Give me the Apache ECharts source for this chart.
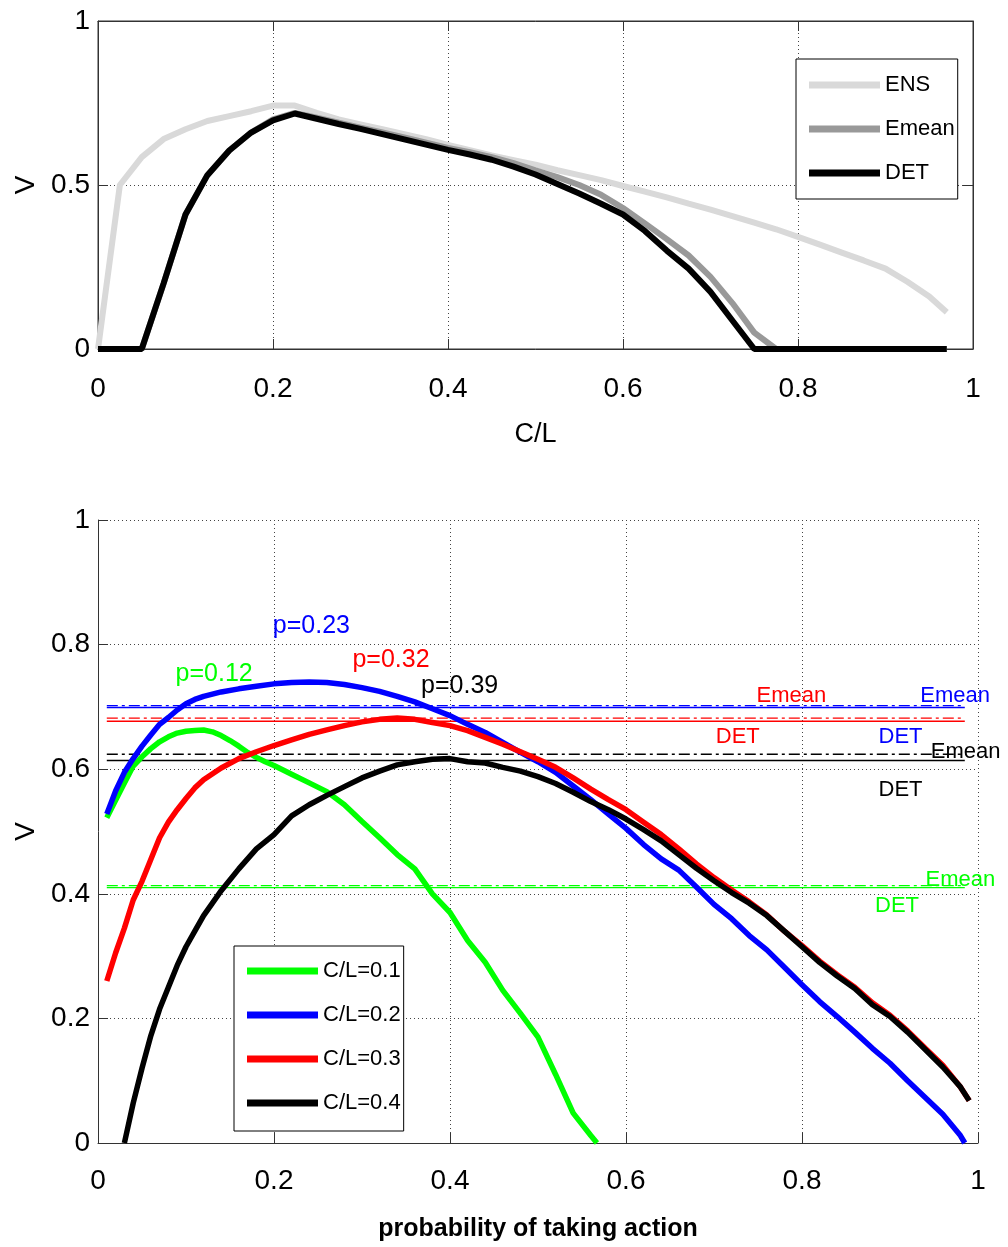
<!DOCTYPE html>
<html><head><meta charset="utf-8">
<script src="https://cdn.jsdelivr.net/npm/echarts@6/dist/echarts.min.js"></script>
<style>html,body{margin:0;padding:0;background:#fff}#c{width:1008px;height:1247px}</style>
</head><body><div id="c"></div>
<script>
// ---------- top panel: value V vs C/L ----------
const clTop = [0,0.025,0.05,0.075,0.1,0.125,0.15,0.175,0.2,0.225,0.25,0.275,0.3,0.325,0.35,0.375,0.4,0.425,0.45,0.475,0.5,0.525,0.55,0.575,0.6,0.625,0.65,0.675,0.7,0.725,0.75,0.775,0.8,0.825,0.85,0.875,0.9,0.925,0.95,0.97];
const ensV   = [0,0.50,0.585,0.64,0.67,0.695,0.71,0.725,0.742,0.742,0.72,0.70,0.685,0.67,0.655,0.64,0.622,0.606,0.59,0.576,0.562,0.545,0.53,0.515,0.497,0.48,0.462,0.443,0.425,0.405,0.385,0.365,0.342,0.318,0.294,0.27,0.245,0.205,0.16,0.112];
const emeanV = [0,0,0,0.2,0.41,0.53,0.605,0.66,0.70,0.72,0.705,0.69,0.675,0.66,0.645,0.629,0.613,0.6,0.585,0.567,0.545,0.524,0.50,0.47,0.43,0.383,0.335,0.285,0.22,0.14,0.05,0,0,0,0,0,0,0,0,0];
const detV   = [0,0,0,0.2,0.41,0.53,0.605,0.66,0.697,0.718,0.702,0.686,0.671,0.655,0.639,0.623,0.607,0.593,0.577,0.556,0.532,0.503,0.474,0.443,0.41,0.36,0.30,0.245,0.174,0.087,0,0,0,0,0,0,0,0,0,0];
const topNames = ['ENS','Emean','DET'];

// ---------- bottom panel: V vs probability of taking action ----------
const bottomNames = ['C/L=0.1','C/L=0.2','C/L=0.3','C/L=0.4'];
const greenP = [0.01,0.02,0.03,0.04,0.05,0.06,0.07,0.08,0.09,0.10,0.11,0.12,0.13,0.14,0.15,0.16,0.17,0.18,0.19,0.20,0.22,0.24,0.26,0.28,0.30,0.32,0.34,0.36,0.38,0.40,0.42,0.44,0.46,0.48,0.50,0.52,0.54,0.56,0.567];
const greenV = [0.522,0.55,0.578,0.605,0.62,0.633,0.644,0.652,0.658,0.661,0.662,0.663,0.66,0.654,0.646,0.637,0.627,0.619,0.612,0.606,0.592,0.578,0.564,0.543,0.516,0.49,0.463,0.44,0.40,0.37,0.325,0.29,0.245,0.208,0.17,0.11,0.048,0.012,0];
const blueP = [0.01,0.02,0.03,0.04,0.05,0.06,0.07,0.08,0.09,0.10,0.11,0.12,0.14,0.16,0.18,0.20,0.22,0.24,0.26,0.28,0.30,0.32,0.34,0.36,0.38,0.40,0.42,0.44,0.46,0.48,0.50,0.52,0.54,0.56,0.58,0.60,0.62,0.64,0.66,0.68,0.70,0.72,0.74,0.76,0.78,0.80,0.82,0.84,0.86,0.88,0.90,0.92,0.94,0.96,0.98,0.985];
const blueV = [0.528,0.565,0.595,0.617,0.637,0.655,0.672,0.683,0.695,0.705,0.712,0.717,0.724,0.729,0.733,0.737,0.739,0.740,0.739,0.736,0.731,0.725,0.717,0.708,0.697,0.686,0.672,0.659,0.643,0.627,0.612,0.595,0.573,0.551,0.528,0.505,0.479,0.456,0.438,0.411,0.383,0.36,0.333,0.31,0.282,0.254,0.227,0.203,0.178,0.152,0.128,0.1,0.073,0.046,0.012,0];
const redP = [0.01,0.02,0.03,0.04,0.05,0.06,0.07,0.08,0.09,0.10,0.11,0.12,0.14,0.16,0.18,0.20,0.22,0.24,0.26,0.28,0.30,0.32,0.34,0.36,0.38,0.40,0.42,0.44,0.46,0.48,0.50,0.52,0.54,0.56,0.58,0.60,0.62,0.64,0.66,0.68,0.70,0.72,0.74,0.76,0.78,0.80,0.82,0.84,0.86,0.88,0.90,0.92,0.94,0.96,0.98,0.99];
const redV = [0.26,0.305,0.345,0.39,0.42,0.455,0.49,0.515,0.535,0.553,0.57,0.583,0.602,0.617,0.628,0.638,0.647,0.656,0.663,0.67,0.676,0.68,0.682,0.68,0.675,0.67,0.662,0.651,0.64,0.628,0.616,0.603,0.586,0.568,0.551,0.535,0.515,0.495,0.472,0.448,0.426,0.406,0.387,0.366,0.34,0.317,0.292,0.27,0.25,0.225,0.205,0.18,0.152,0.125,0.09,0.068];
const blackP = [0.03,0.04,0.05,0.06,0.07,0.08,0.09,0.10,0.11,0.12,0.13,0.14,0.16,0.18,0.20,0.22,0.24,0.26,0.28,0.30,0.32,0.34,0.36,0.38,0.40,0.42,0.44,0.46,0.48,0.50,0.52,0.54,0.56,0.58,0.60,0.62,0.64,0.66,0.68,0.70,0.72,0.74,0.76,0.78,0.80,0.82,0.84,0.86,0.88,0.90,0.92,0.94,0.96,0.98,0.99];
const blackV = [0,0.064,0.12,0.172,0.215,0.25,0.285,0.315,0.34,0.365,0.385,0.405,0.44,0.472,0.495,0.525,0.543,0.558,0.572,0.586,0.597,0.607,0.612,0.616,0.617,0.612,0.61,0.603,0.597,0.588,0.577,0.563,0.548,0.535,0.52,0.503,0.485,0.463,0.441,0.421,0.402,0.385,0.365,0.34,0.315,0.29,0.268,0.248,0.222,0.203,0.178,0.15,0.122,0.09,0.068];

// reference levels (order: C/L=0.1, 0.2, 0.3, 0.4)
const emeanLevel = [0.413, 0.702, 0.682, 0.624];
const detLevel   = [0.410, 0.699, 0.677, 0.614];
const refRange   = [0.01, 0.985];
// annotation anchors in data coordinates
const peakText   = ['p=0.12','p=0.23','p=0.32','p=0.39'];
const peakAt     = [[0.132,0.753],[0.2425,0.829],[0.333,0.775],[0.411,0.734]];
const emeanAt    = [[0.98,0.422],[0.974,0.718],[0.788,0.718],[0.986,0.628]];
const detAt      = [[0.908,0.381],[0.912,0.652],[0.727,0.652],[0.912,0.567]];

const topColors = ['#d9d9d9','#999999','#000000'];
const botColors = ['#00ff00','#0000ff','#ff0000','#000000'];

const FONT = 'Liberation Sans, Arial, sans-serif';
const zip = (xs, ys) => xs.map((x, i) => [x, ys[i]]);

const axisLineStyle = {color:'#333', width:1};
const gridSplit = {show:true, lineStyle:{type:[1,3], color:'#444', width:1}};
function valAxis(extra) {
  return Object.assign({
    type:'value', min:0, max:1,
    axisLine:{show:true, onZero:false, lineStyle:axisLineStyle},
    axisTick:{show:true, inside:true, length:10, lineStyle:axisLineStyle},
    axisLabel:{fontSize:28, color:'#000', fontFamily:FONT},
    splitLine:gridSplit,
    nameTextStyle:{fontSize:28, color:'#000', fontFamily:FONT}
  }, extra);
}

const series = [];
[ensV, emeanV, detV].forEach((v, i) => {
  series.push({
    name: topNames[i], type:'line', xAxisIndex:0, yAxisIndex:0,
    data: zip(clTop, v), showSymbol:false, symbol:'none',
    lineStyle:{color:topColors[i], width:6}, itemStyle:{color:topColors[i]}, z: 3 + i
  });
});
emeanLevel.forEach((lv, i) => {
  series.push({
    name:'ref-emean-' + i, type:'line', xAxisIndex:2, yAxisIndex:2,
    data:[[refRange[0], lv],[refRange[1], lv]], symbol:'none',
    lineStyle:{color:botColors[i], width:1.3, type:[11,4,3,4]}, z:2
  });
  series.push({
    name:'ref-det-' + i, type:'line', xAxisIndex:2, yAxisIndex:2,
    data:[[refRange[0], detLevel[i]],[refRange[1], detLevel[i]]], symbol:'none',
    lineStyle:{color:botColors[i], width:1.3}, z:2
  });
});
[[greenP, greenV],[blueP, blueV],[redP, redV],[blackP, blackV]].forEach((pv, i) => {
  series.push({
    name: bottomNames[i], type:'line', xAxisIndex:2, yAxisIndex:2,
    data: zip(pv[0], pv[1]), showSymbol:false, symbol:'none',
    lineStyle:{color:botColors[i], width:5.5}, itemStyle:{color:botColors[i]}, z: 4 + i
  });
});
function textSeries(name, points, texts, size) {
  return {
    name, type:'scatter', xAxisIndex:2, yAxisIndex:2, symbolSize:0, clip:false,
    data: points.map((p, i) => ({value:p, itemStyle:{color:botColors[i]}, label:{color:botColors[i]}, txt:texts[i]})),
    label:{show:true, position:'inside', fontSize:size, fontFamily:FONT, textBorderWidth:0, opacity:1,
      formatter: (prm) => prm.data.txt},
    z:10, silent:true
  };
}
series.push(textSeries('peak-labels', peakAt, peakText, 25));
series.push(textSeries('emean-labels', emeanAt, ['Emean','Emean','Emean','Emean'], 22));
series.push(textSeries('det-labels', detAt, ['DET','DET','DET','DET'], 22));

const option = {
  animation:false,
  backgroundColor:'#fff',
  grid:[
    {left:98, top:21, width:875, height:328, show:true, borderColor:'#333', borderWidth:1, backgroundColor:'transparent'},
    {left:98, top:520, width:880, height:627, show:false}
  ],
  xAxis:[
    valAxis({gridIndex:0, interval:0.2, position:'bottom', name:'C/L', nameLocation:'middle', nameGap:72,
      nameTextStyle:{fontSize:27, color:'#000', fontFamily:FONT},
      axisLabel:{fontSize:28, color:'#000', fontFamily:FONT, margin:26}}),
    valAxis({gridIndex:0, interval:0.2, position:'top', axisLabel:{show:false}, splitLine:{show:false}}),
    valAxis({gridIndex:1, interval:0.2, position:'bottom', name:'probability of taking action', nameLocation:'middle', nameGap:74,
      nameTextStyle:{fontSize:25, color:'#000', fontFamily:FONT, fontWeight:'bold'},
      axisLabel:{fontSize:28, color:'#000', fontFamily:FONT, margin:24}})
  ],
  yAxis:[
    valAxis({gridIndex:0, interval:0.5, position:'left', name:'V', nameLocation:'middle', nameGap:55, nameRotate:90,
      axisLabel:{fontSize:28, color:'#000', fontFamily:FONT, margin:8}}),
    valAxis({gridIndex:0, interval:0.5, position:'right', axisLabel:{show:false}, splitLine:{show:false}}),
    valAxis({gridIndex:1, interval:0.2, position:'left', name:'V', nameLocation:'middle', nameGap:55, nameRotate:90,
      axisLabel:{fontSize:28, color:'#000', fontFamily:FONT, margin:8}})
  ],
  legend:[
    {data:topNames, orient:'vertical', left:796, top:59, icon:'rect', itemWidth:71, itemHeight:7, itemGap:14,
      padding:[11,3,11,13], borderColor:'#000', borderWidth:1, backgroundColor:'#fff', selectedMode:false,
      textStyle:{fontSize:22, lineHeight:30, color:'#000', fontFamily:FONT}},
    {data:bottomNames, orient:'vertical', left:234, top:946, icon:'rect', itemWidth:71, itemHeight:7, itemGap:14,
      padding:[10,3,13,13], borderColor:'#000', borderWidth:1, backgroundColor:'#fff', selectedMode:false,
      textStyle:{fontSize:22, lineHeight:30, color:'#000', fontFamily:FONT}}
  ],
  series
};
const chart = echarts.init(document.getElementById('c'), null, {renderer:'canvas'});
chart.setOption(option);
</script></body></html>
